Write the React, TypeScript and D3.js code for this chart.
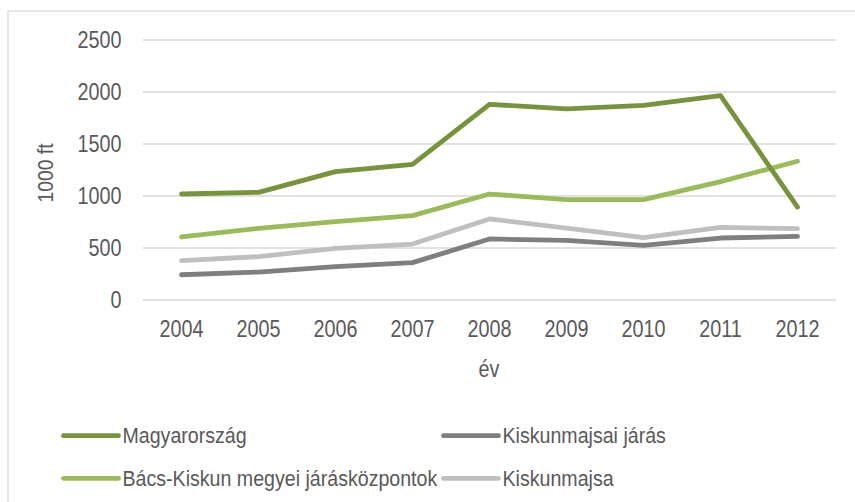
import React from "react";
import * as d3 from "d3";

const years = ["2004", "2005", "2006", "2007", "2008", "2009", "2010", "2011", "2012"];
const magyarorszag = [1019, 1035, 1234, 1305, 1882, 1837, 1872, 1965, 894];
const bacsKiskun = [606, 689, 753, 811, 1019, 965, 965, 1138, 1334];
const kiskunmajsaiJaras = [243, 269, 320, 359, 587, 574, 526, 596, 612];
const kiskunmajsa = [378, 417, 497, 538, 779, 692, 599, 699, 686];
const yTicks = [0, 500, 1000, 1500, 2000, 2500];

const seriesNames = ["Magyarország", "Kiskunmajsai járás", "Bács-Kiskun megyei járásközpontok", "Kiskunmajsa"];
const seriesValues = [magyarorszag, kiskunmajsaiJaras, bacsKiskun, kiskunmajsa];
const seriesColors = ["#77933C", "#7F7F7F", "#9BBB59", "#BFBFBF"];
// drawing order (back to front)
const drawOrder = [3, 1, 2, 0];

const FONT = "'Liberation Sans', Arial, sans-serif";
const TEXT = "#595959";
const NARROW = 0.86;

function T({
  x,
  y,
  size,
  anchor = "start",
  rotate = 0,
  children,
}: {
  x: number;
  y: number;
  size: number;
  anchor?: string;
  rotate?: number;
  children: React.ReactNode;
}) {
  return (
    <text
      transform={`translate(${x},${y}) rotate(${rotate}) scale(${NARROW},1)`}
      textAnchor={anchor}
      fontSize={size}
      fill={TEXT}
      fontFamily={FONT}
    >
      {children}
    </text>
  );
}

export default function App() {
  const W = 855, H = 502;
  const x = d3.scalePoint<string>().domain(years).range([143, 836]).padding(0.5);
  const y = d3.scaleLinear().domain([0, 2500]).range([300, 40]);
  const line = d3
    .line<number>()
    .x((_, i) => x(years[i]) as number)
    .y((d) => y(d));

  const legendPos = [
    { lx: 63.5, ly: 435.7 },
    { lx: 443.5, ly: 435.7 },
    { lx: 63.5, ly: 478.3 },
    { lx: 443.5, ly: 478.3 },
  ];

  return (
    <svg
      width={W}
      height={H}
      style={{ position: "absolute", left: 0, top: 0, background: "#fff" }}
    >
      <rect x={8} y={11} width={W + 10} height={H + 10} fill="#fff" stroke="#D9D9D9" strokeWidth={1.3} />
      {yTicks.map((t) => (
        <g key={t}>
          <line x1={143} x2={836} y1={y(t)} y2={y(t)} stroke="#D9D9D9" strokeWidth={1.3} />
          <T x={121.5} y={y(t) + 8.3} size={23} anchor="end">
            {t}
          </T>
        </g>
      ))}
      {years.map((yr) => (
        <T key={yr} x={x(yr) as number} y={336.7} size={23} anchor="middle">
          {yr}
        </T>
      ))}
      <T x={489} y={377} size={23} anchor="middle">
        év
      </T>
      <T x={53} y={173} size={22.5} anchor="middle" rotate={-90}>
        1000 ft
      </T>
      {drawOrder.map((si) => (
        <path
          key={si}
          d={line(seriesValues[si]) || ""}
          fill="none"
          stroke={seriesColors[si]}
          strokeWidth={4.8}
          strokeLinecap="round"
          strokeLinejoin="round"
        />
      ))}
      {seriesNames.map((n, i) => (
        <g key={n}>
          <line
            x1={legendPos[i].lx}
            x2={legendPos[i].lx + 55}
            y1={legendPos[i].ly}
            y2={legendPos[i].ly}
            stroke={seriesColors[i]}
            strokeWidth={4.8}
            strokeLinecap="round"
          />
          <T x={legendPos[i].lx + 59} y={legendPos[i].ly + 7.4} size={22.8}>
            {n}
          </T>
        </g>
      ))}
    </svg>
  );
}
